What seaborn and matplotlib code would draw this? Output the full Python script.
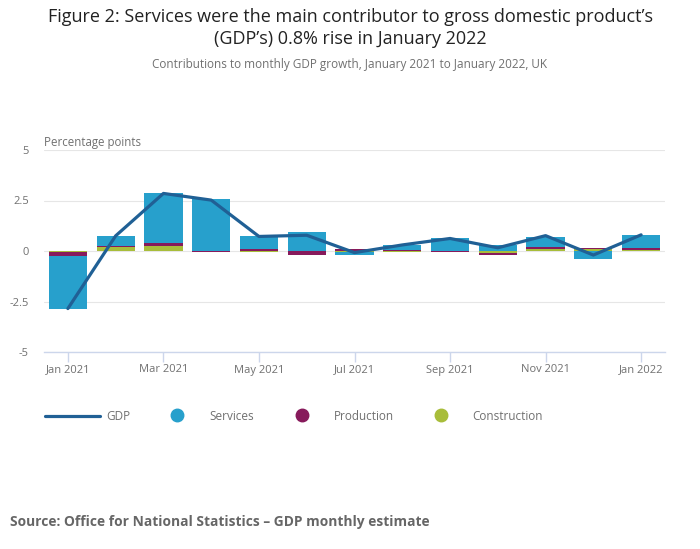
import numpy as np
import pandas as pd
import matplotlib
matplotlib.use("Agg")
import matplotlib.pyplot as plt
import seaborn as sns
from matplotlib.lines import Line2D

# Data (percentage points)
months = ["Jan 2021", "Feb 2021", "Mar 2021", "Apr 2021", "May 2021", "Jun 2021",
          "Jul 2021", "Aug 2021", "Sep 2021", "Oct 2021", "Nov 2021", "Dec 2021", "Jan 2022"]
services = [-2.62, 0.49, 2.47, 2.55, 0.64, 0.92, -0.15, 0.25, 0.60, 0.28, 0.49, -0.41, 0.64]
production = [-0.20, 0.05, 0.15, -0.07, 0.08, -0.21, 0.08, 0.03, -0.07, -0.10, 0.10, 0.05, 0.10]
construction = [-0.05, 0.18, 0.23, 0.00, -0.06, 0.00, -0.06, -0.06, 0.02, -0.11, 0.08, 0.08, 0.03]
gdp = [-2.85, 0.75, 2.85, 2.52, 0.72, 0.78, -0.08, 0.30, 0.62, 0.16, 0.76, -0.20, 0.80]
tick_labels = ["Jan 2021", "Mar 2021", "May 2021", "Jul 2021", "Sep 2021", "Nov 2021", "Jan 2022"]

sns.set_theme(style="white")
plt.rcParams['font.family'] = ['Open Sans', 'DejaVu Sans']

colors = {"Services": "#27a0cc", "Production": "#871a5b", "Construction": "#a8bd3a"}
gdp_color = "#206095"
grey = "#707070"

fig = plt.figure(figsize=(7, 5.49), dpi=100)
ax = fig.add_axes([44 / 700, 1 - 352 / 549, (665 - 44) / 700, (352 - 150) / 549])

x = np.arange(len(months))
pos_base = np.zeros(len(months))
neg_base = np.zeros(len(months))
# stack order: construction nearest zero, then production, then services
for name, vals in [("Construction", construction), ("Production", production), ("Services", services)]:
    vals = np.array(vals)
    bottoms = np.where(vals >= 0, pos_base, neg_base)
    ax.bar(x, vals, bottom=bottoms, width=0.8, color=colors[name], linewidth=0, zorder=2)
    pos_base = pos_base + np.where(vals >= 0, vals, 0)
    neg_base = neg_base + np.where(vals < 0, vals, 0)

df = pd.DataFrame({"x": x, "GDP": gdp})
sns.lineplot(data=df, x="x", y="GDP", ax=ax, color=gdp_color, linewidth=2.3, zorder=3)

ax.set_xlim(-0.5, 12.5)
ax.set_ylim(-5, 5)
ax.set_yticks([-5, -2.5, 0, 2.5, 5])
ax.set_yticklabels(["-5", "-2.5", "0", "2.5", "5"])
ax.set_xticks(np.arange(0, 13, 2))
ax.set_xticklabels(tick_labels)
ax.set_xlabel("")
ax.set_ylabel("")
ax.grid(axis="y", color="#e6e6e6", linewidth=0.8, zorder=0)
ax.set_axisbelow(True)
for s in ["top", "right", "left"]:
    ax.spines[s].set_visible(False)
ax.spines["bottom"].set_color("#ccd6eb")
ax.spines["bottom"].set_linewidth(1)
ax.tick_params(axis="x", colors="#ccd6eb", length=7, width=1, labelcolor=grey, labelsize=8, pad=2, direction="out", bottom=True)
ax.tick_params(axis="y", length=0, labelcolor=grey, labelsize=8, pad=11)

fig.text(44 / 700, 1 - 143 / 549, "Percentage points", fontsize=8.3, color=grey, ha="left", va="center")

fig.text(0.5, 1 - 17 / 549, "Figure 2: Services were the main contributor to gross domestic product\u2019s",
         fontsize=13, color="#222222", ha="center", va="center")
fig.text(0.5, 1 - 39 / 549, "(GDP\u2019s) 0.8% rise in January 2022",
         fontsize=13, color="#222222", ha="center", va="center")
fig.text(0.5, 1 - 64 / 549, "Contributions to monthly GDP growth, January 2021 to January 2022, UK",
         fontsize=8.5, color=grey, ha="center", va="center")

# legend drawn manually in figure coordinates
ly = 1 - 416 / 549
fig.add_artist(Line2D([45 / 700, 100 / 700], [ly, ly], color=gdp_color, linewidth=2.3))
fig.text(106 / 700, ly, "GDP", fontsize=8.5, color=grey, ha="left", va="center")
for cx, tx, name in [(177, 209, "Services"), (302, 334, "Production"), (441, 472, "Construction")]:
    fig.add_artist(Line2D([cx / 700], [ly + 0.002], marker="o", markersize=9, color=colors[name], linewidth=0))
    fig.text(tx / 700, ly, name, fontsize=8.5, color=grey, ha="left", va="center")

fig.text(10 / 700, 1 - 522 / 549, "Source: Office for National Statistics \u2013 GDP monthly estimate",
         fontsize=9.9, color="#666666", fontweight="bold", ha="left", va="center")

fig.savefig("out.png", dpi=100, facecolor="white")
